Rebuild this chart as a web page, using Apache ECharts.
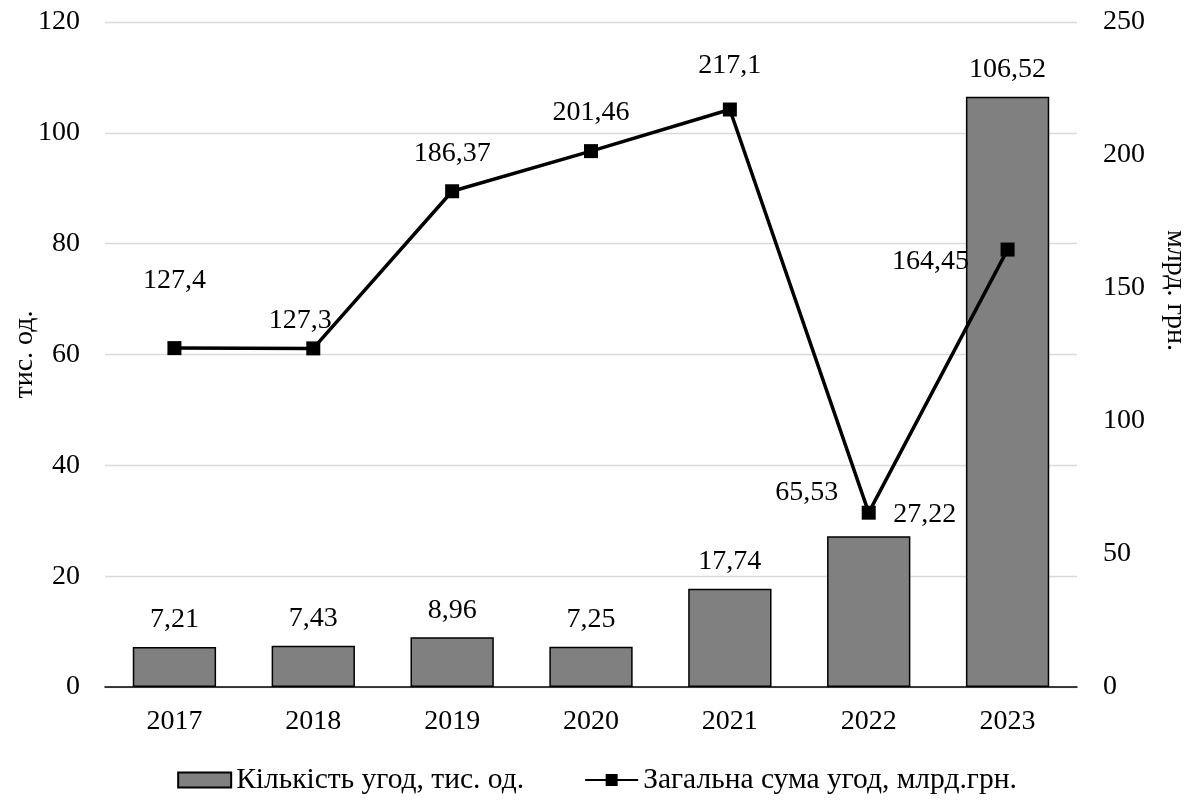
<!DOCTYPE html>
<html>
<head>
<meta charset="utf-8">
<script src="https://cdn.jsdelivr.net/npm/echarts@6/dist/echarts.min.js"></script>
<style>
  html, body { margin: 0; padding: 0; background: #ffffff; }
  #chart { width: 1194px; height: 805px; }
</style>
</head>
<body>
<div id="chart"></div>
<script>
// Years on the category axis
const years = ['2017', '2018', '2019', '2020', '2021', '2022', '2023'];
// Number of deals, thousand units (left axis)
const dealCount = [7.21, 7.43, 8.96, 7.25, 17.74, 27.22, 106.52];
// Total sum of deals, bln UAH (right axis)
const dealSum = [127.4, 127.3, 186.37, 201.46, 217.1, 65.53, 164.45];

const leftTicks = { min: 0, max: 120, interval: 20 };
const rightTicks = { min: 0, max: 250, interval: 50 };

const FONT = '"Liberation Serif", "Times New Roman", serif';
const FS = 28;
const fmt = v => String(v).replace('.', ',');

// label nudges so the texts do not collide with the line or bars
const barLabelOffsets = [null, null, null, null, null, [56, 5], null];
const lineLabelOffsets = [[0, -29], [-13, 10], [0, 0], [0, 0], [0, -6], [-62, 18], [-77, 50]];

const barData = dealCount.map((v, i) => {
  const o = barLabelOffsets[i];
  return o ? { value: v, label: { offset: o } } : v;
});
const lineData = dealSum.map((v, i) => ({ value: v, label: { offset: lineLabelOffsets[i] } }));

const chart = echarts.init(document.getElementById('chart'), null, { renderer: 'canvas' });
chart.setOption({
  backgroundColor: '#ffffff',
  animation: false,
  textStyle: { fontFamily: FONT },
  grid: { left: 105, right: 117, top: 22, bottom: 118, containLabel: false, outerBoundsMode: 'none' },
  legend: {
    bottom: 5,
    left: 'center',
    itemGap: 60,
    itemWidth: 53,
    itemHeight: 15,
    textStyle: { fontFamily: FONT, fontSize: 29.5, color: '#000' },
    data: [
      { name: 'Кількість угод, тис. од.', icon: 'rect' },
      { name: 'Загальна сума угод, млрд.грн.' }
    ]
  },
  xAxis: {
    type: 'category',
    data: years,
    axisLine: { lineStyle: { color: '#000', width: 1.5 } },
    axisTick: { show: false },
    axisLabel: { fontFamily: FONT, fontSize: FS, color: '#000', margin: 21 }
  },
  yAxis: [
    {
      type: 'value',
      min: leftTicks.min, max: leftTicks.max, interval: leftTicks.interval,
      name: 'тис. од.',
      nameLocation: 'middle',
      nameMoveOverlap: false,
      nameGap: 66,
      nameTextStyle: { fontFamily: FONT, fontSize: FS, color: '#000' },
      axisLine: { show: false },
      axisTick: { show: false },
      axisLabel: { fontFamily: FONT, fontSize: FS, color: '#000', margin: 25 },
      splitLine: { lineStyle: { color: '#d9d9d9', width: 1.3 } }
    },
    {
      type: 'value',
      min: rightTicks.min, max: rightTicks.max, interval: rightTicks.interval,
      name: 'млрд. грн.',
      nameLocation: 'middle',
      nameMoveOverlap: false,
      nameRotate: -90,
      nameGap: 84,
      nameTextStyle: { fontFamily: FONT, fontSize: FS, color: '#000', padding: [0, 128, 0, 0] },
      axisLine: { show: false },
      axisTick: { show: false },
      axisLabel: { fontFamily: FONT, fontSize: FS, color: '#000', margin: 26 },
      splitLine: { show: false }
    }
  ],
  series: [
    {
      name: 'Кількість угод, тис. од.',
      type: 'bar',
      yAxisIndex: 0,
      barCategoryGap: '40%',
      data: barData,
      itemStyle: { color: '#808080', borderColor: '#000', borderWidth: 1.5 },
      label: {
        show: true,
        position: 'top',
        distance: 13,
        fontFamily: FONT, fontSize: FS, color: '#000',
        formatter: p => fmt(p.value)
      },
      z: 2
    },
    {
      name: 'Загальна сума угод, млрд.грн.',
      type: 'line',
      yAxisIndex: 1,
      data: lineData,
      symbol: 'rect',
      symbolSize: 14,
      lineStyle: { color: '#000', width: 3.5 },
      itemStyle: { color: '#000' },
      label: {
        show: true,
        position: 'top',
        distance: 17,
        fontFamily: FONT, fontSize: FS, color: '#000',
        formatter: p => fmt(p.value)
      },
      z: 3
    }
  ]
});
</script>
</body>
</html>
